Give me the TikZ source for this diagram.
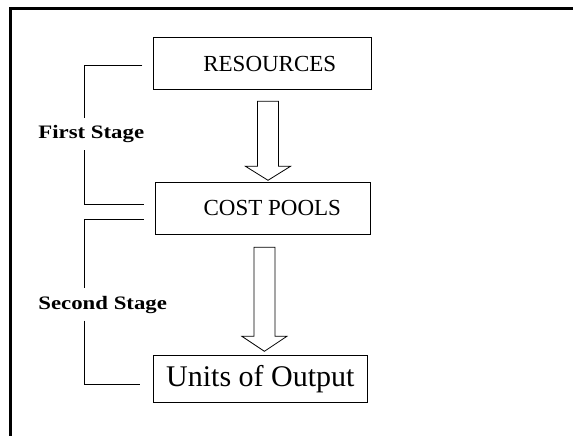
\documentclass[tikz,border=0pt]{standalone}
\usepackage{fontspec}
\setmainfont{Liberation Serif}
\newfontfamily\stagefont[FakeStretch=1.2]{Liberation Serif}
\usepackage{tikz}
\usetikzlibrary{shapes,arrows,positioning}

\begin{document}
\begin{tikzpicture}[x=1pt, y=-1pt, line width=0.8pt]
\tikzstyle{box} = [rectangle, draw, inner sep=0pt, text centered, font=\fontsize{23}{25}\selectfont]
\tikzstyle{stage} = [anchor=base west, inner xsep=0pt, inner ysep=7pt, font=\stagefont\bfseries\fontsize{19}{21}\selectfont]
\tikzstyle{fat} = [draw, line join=miter]

\useasboundingbox (0,0) rectangle (573,436);
\draw [line width=3.2pt] (10.7,436) -- (10.7,8.3) -- (573,8.3);
\coordinate (brk) at (84,0);

\node [box, minimum width=218pt, minimum height=51.6pt] (res) at (262.8,63.5) {\hspace{14pt}RESOURCES};
\node [box, minimum width=215pt, minimum height=52pt] (pools) at (262.8,208.3) {\hspace{19pt}COST POOLS};
\node [box, minimum width=214pt, minimum height=47pt, font=\fontsize{30}{32}\selectfont] (out) at (260.4,379.2) {Units of Output};

\node [stage] (fs) at (38,138.5) {First Stage};
\node [stage] (ss) at (38,309) {Second Stage};

% hollow arrows between the boxes
\draw [fat] ([shift={(5.2,-1.6)}]pools.north) coordinate (push)
  -- ++(-22.5,-14) -- ++(12,0) -- ++(0,-65) -- ++(21,0) -- ++(0,65) -- ++(12,0) -- cycle;
\draw [fat] ([shift={(4,-4)}]out.north) coordinate (spread)
  -- ++(-22.5,-15) -- ++(12,0) -- ++(0,-89) -- ++(21,0) -- ++(0,89) -- ++(12,0) -- cycle;

\draw ([shift={(-11,1.5)}]res.west) -| (fs.north -| brk);
\draw (fs.south -| brk) |- ([shift={(-11,-4.3)}]pools.west);
\draw ([shift={(-11,10.7)}]pools.west) -| (ss.north -| brk);
\draw (ss.south -| brk) |- ([shift={(-12.8,5.1)}]out.west);
\end{tikzpicture}
\end{document}
